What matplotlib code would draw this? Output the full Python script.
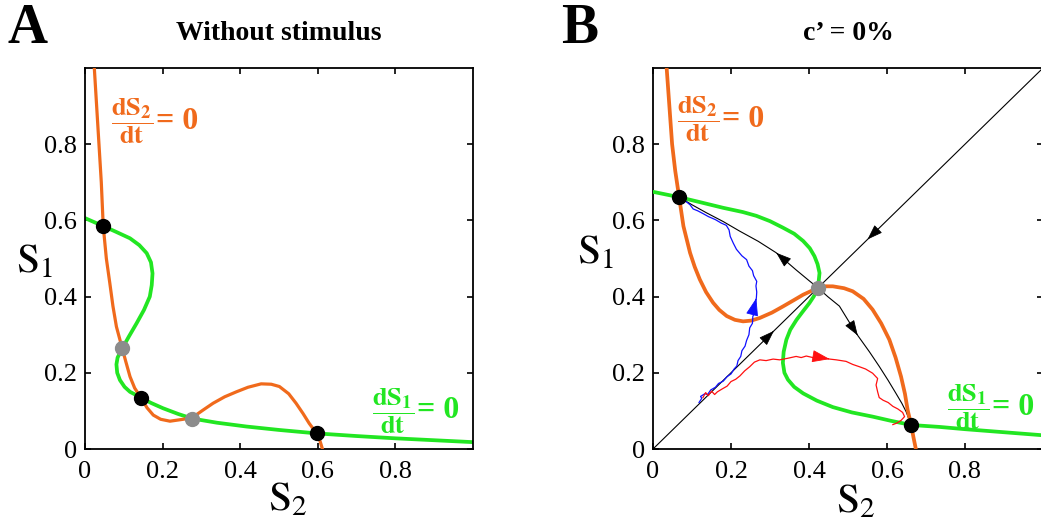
import numpy as np
import matplotlib
matplotlib.use('Agg')
import matplotlib.pyplot as plt

plt.rcParams['font.family'] = ['Liberation Serif', 'DejaVu Serif']
plt.rcParams['mathtext.fontset'] = 'stix'

ORANGE = '#F06A1C'
GREEN = '#22E622'
GREY = '#8C8C8C'

# ---- panel A: nullclines without stimulus (S2, S1) ----
a_green_s2 = [0.000, 0.047, 0.080, 0.116, 0.140, 0.159, 0.170, 0.174, 0.172, 0.167,
              0.152, 0.133, 0.113, 0.096, 0.084, 0.081, 0.083, 0.090, 0.102, 0.116,
              0.144, 0.170, 0.201, 0.240, 0.276, 0.340, 0.416, 0.500, 0.597, 0.700,
              0.800, 0.900, 1.000]
a_green_s1 = [0.606, 0.585, 0.570, 0.553, 0.535, 0.514, 0.490, 0.461, 0.430, 0.400,
              0.365, 0.330, 0.295, 0.264, 0.240, 0.222, 0.200, 0.181, 0.163, 0.150,
              0.135, 0.121, 0.107, 0.092, 0.080, 0.069, 0.059, 0.050, 0.041, 0.034,
              0.028, 0.023, 0.018]

a_orange_s2 = [0.024, 0.030, 0.036, 0.042, 0.047, 0.055, 0.064, 0.072, 0.081, 0.096,
               0.105, 0.116, 0.128, 0.144, 0.160, 0.176, 0.195, 0.219, 0.253, 0.276,
               0.304, 0.330, 0.360, 0.390, 0.420, 0.454, 0.480, 0.501, 0.525, 0.544,
               0.562, 0.578, 0.597, 0.606, 0.612]
a_orange_s1 = [1.000, 0.900, 0.800, 0.700, 0.585, 0.500, 0.435, 0.375, 0.321, 0.264,
               0.230, 0.190, 0.160, 0.135, 0.108, 0.089, 0.078, 0.073, 0.078, 0.082,
               0.102, 0.120, 0.137, 0.150, 0.162, 0.171, 0.170, 0.164, 0.145, 0.120,
               0.093, 0.067, 0.041, 0.020, 0.000]

a_stable_s2 = [0.047, 0.144, 0.597]
a_stable_s1 = [0.585, 0.135, 0.041]
a_saddle_s2 = [0.096, 0.276]
a_saddle_s1 = [0.264, 0.080]

# ---- panel B: c' = 0% ----
b_green_s2 = [0.000, 0.067, 0.120, 0.180, 0.230, 0.265, 0.300, 0.333, 0.362, 0.385,
              0.402, 0.414, 0.422, 0.427, 0.423, 0.412, 0.401, 0.385, 0.368, 0.352,
              0.342, 0.335, 0.333, 0.337, 0.346, 0.362, 0.385, 0.420, 0.461, 0.510,
              0.563, 0.610, 0.662, 0.734, 0.800, 0.900, 1.000]
b_green_s1 = [0.675, 0.661, 0.648, 0.633, 0.622, 0.612, 0.598, 0.581, 0.565, 0.546,
              0.527, 0.506, 0.485, 0.462, 0.423, 0.400, 0.383, 0.362, 0.339, 0.313,
              0.287, 0.255, 0.226, 0.200, 0.182, 0.163, 0.146, 0.127, 0.110, 0.096,
              0.085, 0.074, 0.063, 0.058, 0.052, 0.044, 0.036]

b_orange_s2 = [0.035, 0.042, 0.049, 0.057, 0.067, 0.078, 0.095, 0.107, 0.120, 0.136,
               0.154, 0.170, 0.189, 0.210, 0.231, 0.252, 0.274, 0.305, 0.333, 0.360,
               0.385, 0.423, 0.440, 0.461, 0.490, 0.512, 0.540, 0.563, 0.585, 0.606,
               0.622, 0.636, 0.646, 0.653, 0.662, 0.668, 0.674]
b_orange_s1 = [1.000, 0.900, 0.800, 0.730, 0.661, 0.585, 0.515, 0.478, 0.445, 0.412,
               0.384, 0.365, 0.349, 0.339, 0.335, 0.337, 0.344, 0.358, 0.374, 0.390,
               0.405, 0.423, 0.427, 0.427, 0.422, 0.414, 0.394, 0.366, 0.330, 0.287,
               0.240, 0.190, 0.145, 0.102, 0.063, 0.030, 0.000]

# stable manifold of the saddle (the diagonal) and its unstable manifold
diag_s = [0.0, 1.0]
unstable_s2 = [0.067, 0.100, 0.137, 0.180, 0.222, 0.270, 0.316, 0.367, 0.400, 0.423,
               0.448, 0.478, 0.505, 0.525, 0.555, 0.580, 0.603, 0.623, 0.638, 0.649,
               0.662]
unstable_s1 = [0.661, 0.641, 0.620, 0.597, 0.572, 0.545, 0.515, 0.470, 0.442, 0.423,
               0.400, 0.375, 0.330, 0.298, 0.255, 0.217, 0.180, 0.146, 0.120, 0.098,
               0.063]

# two noisy trials
blue_s2 = [0.118, 0.125, 0.122, 0.133, 0.140, 0.148, 0.160, 0.168, 0.180, 0.190,
           0.200, 0.208, 0.215, 0.218, 0.225, 0.228, 0.236, 0.240, 0.246, 0.248,
           0.255, 0.256, 0.262, 0.261, 0.265, 0.266, 0.264, 0.266, 0.258, 0.255,
           0.246, 0.240, 0.228, 0.214, 0.206, 0.198, 0.195, 0.188, 0.175, 0.160,
           0.142, 0.128, 0.115, 0.103, 0.095, 0.084, 0.075]
blue_s1 = [0.122, 0.133, 0.138, 0.145, 0.143, 0.155, 0.162, 0.172, 0.178, 0.190,
           0.197, 0.210, 0.218, 0.232, 0.243, 0.258, 0.270, 0.285, 0.300, 0.318,
           0.330, 0.348, 0.362, 0.380, 0.396, 0.412, 0.428, 0.440, 0.455, 0.468,
           0.480, 0.497, 0.507, 0.524, 0.540, 0.558, 0.575, 0.587, 0.593, 0.602,
           0.610, 0.618, 0.625, 0.630, 0.641, 0.650, 0.657]

red_s2 = [0.128, 0.135, 0.142, 0.150, 0.158, 0.165, 0.178, 0.190, 0.200, 0.212,
          0.223, 0.235, 0.248, 0.260, 0.274, 0.290, 0.308, 0.325, 0.345, 0.367,
          0.380, 0.393, 0.410, 0.425, 0.436, 0.453, 0.470, 0.495, 0.512, 0.529,
          0.545, 0.563, 0.576, 0.572, 0.576, 0.580, 0.590, 0.603, 0.615, 0.628,
          0.640, 0.645, 0.636, 0.625, 0.615]
red_s1 = [0.135, 0.148, 0.140, 0.152, 0.143, 0.150, 0.158, 0.165, 0.177, 0.183,
          0.192, 0.205, 0.216, 0.228, 0.234, 0.232, 0.236, 0.234, 0.238, 0.243,
          0.240, 0.244, 0.240, 0.241, 0.239, 0.236, 0.234, 0.230, 0.222, 0.216,
          0.210, 0.199, 0.185, 0.168, 0.150, 0.135, 0.128, 0.122, 0.112, 0.105,
          0.096, 0.085, 0.075, 0.068, 0.064]

b_stable_s2 = [0.067, 0.662]
b_stable_s1 = [0.661, 0.063]
b_saddle_s2 = [0.423]
b_saddle_s1 = [0.423]

ticks = [0, 0.2, 0.4, 0.6, 0.8]
tick_labels = ['0', '0.2', '0.4', '0.6', '0.8']


def head(ax, xs, ys, i, j, color, scale=12):
    # arrow head with its tip on point i, pointing away from point j
    dx, dy = xs[i] - xs[j], ys[i] - ys[j]
    n = np.hypot(dx, dy)
    tail = (xs[i] - 0.004 * dx / n, ys[i] - 0.004 * dy / n)
    ax.annotate('', xy=(xs[i], ys[i]), xytext=tail,
                arrowprops=dict(arrowstyle='-|>,head_length=0.8,head_width=0.28',
                                color=color, lw=0.6, shrinkA=0, shrinkB=0,
                                mutation_scale=scale))


def setup(ax, xlab_x, xlab_y, ylab_x, ylab_y):
    ax.set_xlim(0, 1)
    ax.set_ylim(0, 1)
    ax.set_xticks(ticks)
    ax.set_xticklabels(tick_labels)
    ax.set_yticks(ticks)
    ax.set_yticklabels(tick_labels)
    ax.tick_params(direction='in', top=True, right=True, length=4, width=1.2,
                   labelsize=19, pad=6)
    ax.tick_params(axis='x', pad=9)
    for sp in ax.spines.values():
        sp.set_linewidth(1.3)
    ax.set_xlabel(r'$\mathrm{S}_2$', fontsize=30)
    ax.set_ylabel(r'$\mathrm{S}_1$', fontsize=30, rotation=0)
    ax.xaxis.set_label_coords(xlab_x, xlab_y)
    ax.yaxis.set_label_coords(ylab_x, ylab_y)
    ax.xaxis.label.set_va('center')
    ax.yaxis.label.set_va('center')
    ax.yaxis.label.set_ha('center')


def nullcline_label(ax, x, y, k, color):
    # dS_k/dt as a stacked fraction, followed by a larger "= 0"
    frac = ax.text(x, y, r'$\mathbf{\dfrac{dS_%d}{dt}}$' % k, color=color,
                   fontsize=19, va='center', ha='left')
    ax.annotate('= 0', xy=(1, 0.5), xycoords=frac, xytext=(2, 0),
                textcoords='offset points', color=color, fontsize=23,
                fontweight='bold', va='center', ha='left')


fig = plt.figure(figsize=(10.41, 5.2), dpi=100)
axA = fig.add_axes([85 / 1041, 71 / 520, 388 / 1041, 381 / 520])
axB = fig.add_axes([653 / 1041, 71 / 520, 390 / 1041, 381 / 520])

# panel A
axA.plot(a_green_s2, a_green_s1, color=GREEN, lw=2.7, solid_capstyle='round', zorder=2)
axA.plot(a_orange_s2, a_orange_s1, color=ORANGE, lw=2.3, solid_capstyle='round', zorder=3)
axA.plot(a_stable_s2, a_stable_s1, 'o', color='k', ms=10, zorder=5)
axA.plot(a_saddle_s2, a_saddle_s1, 'o', color=GREY, ms=10, zorder=5)
setup(axA, 0.523, -0.134, -0.13, 0.49)
nullcline_label(axA, 0.066, 0.86, 2, ORANGE)
nullcline_label(axA, 0.74, 0.10, 1, GREEN)
axA.set_title('Without stimulus', fontsize=20, fontweight='bold', pad=20)

# panel B
axB.plot(diag_s, diag_s, color='k', lw=0.8, zorder=2)
axB.plot(unstable_s2, unstable_s1, color='k', lw=0.8, zorder=2)
axB.plot(b_green_s2, b_green_s1, color=GREEN, lw=2.7, solid_capstyle='round', zorder=3)
axB.plot(b_orange_s2, b_orange_s1, color=ORANGE, lw=2.7, solid_capstyle='round', zorder=3)
axB.plot(blue_s2, blue_s1, color='#1010FF', lw=0.9, zorder=4)
axB.plot(red_s2, red_s1, color='#FF1010', lw=0.9, zorder=4)
head(axB, [0.0, 0.31], [0.0, 0.31], 1, 0, 'k')
head(axB, [1.0, 0.55], [1.0, 0.55], 1, 0, 'k')
head(axB, unstable_s2, unstable_s1, 6, 7, 'k')
head(axB, unstable_s2, unstable_s1, 13, 12, 'k')
head(axB, blue_s2, blue_s1, 24, 23, '#1010FF', 14)
head(axB, red_s2, red_s1, 25, 24, '#FF1010', 14)
axB.plot(b_stable_s2, b_stable_s1, 'o', color='k', ms=10, zorder=5)
axB.plot(b_saddle_s2, b_saddle_s1, 'o', color=GREY, ms=10, zorder=5)
setup(axB, 0.52, -0.139, -0.146, 0.514)
nullcline_label(axB, 0.062, 0.865, 2, ORANGE)
nullcline_label(axB, 0.755, 0.11, 1, GREEN)
axB.set_title('c\u2019 = 0%', fontsize=20, fontweight='bold', pad=20)

fig.text(28 / 1041, 1 - 29 / 520, 'A', fontsize=40, fontweight='bold', ha='center', va='center')
fig.text(580 / 1041, 1 - 29 / 520, 'B', fontsize=40, fontweight='bold', ha='center', va='center')

fig.savefig('out.png', dpi=100)
